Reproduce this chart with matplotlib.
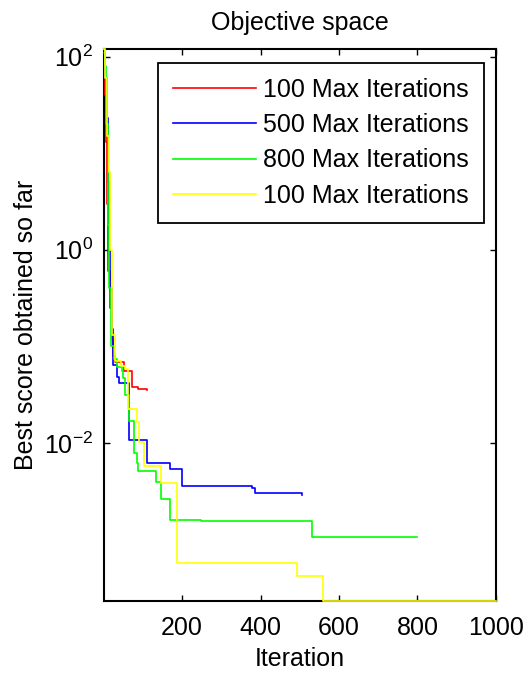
import matplotlib
matplotlib.use('Agg')
import matplotlib.pyplot as plt

plt.rcParams['font.family'] = ['Liberation Sans', 'DejaVu Sans']
plt.rcParams['mathtext.fontset'] = 'custom'
plt.rcParams['mathtext.rm'] = 'Liberation Sans'
plt.rcParams['mathtext.it'] = 'Liberation Sans'

# convergence curves: (iteration, best score) breakpoints
red_it = [1, 3, 5, 8, 12, 16, 20, 24, 28, 51, 71, 87, 110]
red_val = [110, 40, 13, 3, 0.6, 0.25, 0.12, 0.08, 0.069, 0.055, 0.038, 0.036, 0.035]

blue_it = [1, 4, 8, 11, 13, 16, 20, 23, 25, 33, 38, 64, 110, 168, 199, 377, 385, 505]
blue_val = [115, 60, 23, 5, 1, 0.4, 0.15, 0.09, 0.064, 0.048, 0.042, 0.0107,
            0.0062, 0.0054, 0.0036, 0.0034, 0.0030, 0.0029]

green_it = [1, 3, 6, 10, 14, 19, 26, 34, 46, 49, 54, 64, 77, 84, 88, 134, 145,
            170, 249, 530, 800]
green_val = [120, 80, 20, 1.8, 0.4, 0.1, 0.074, 0.061, 0.055, 0.047, 0.031,
             0.017, 0.0079, 0.0062, 0.0051, 0.0039, 0.0026, 0.0016, 0.00155,
             0.00107, 0.00105]

yellow_it = [1, 4, 8, 13, 16, 20, 22, 28, 44, 54, 62, 84, 90, 102, 145, 186,
             492, 558, 1000]
yellow_val = [120, 60, 15, 6.4, 1, 0.3, 0.13, 0.07, 0.063, 0.058, 0.0225,
              0.0165, 0.0102, 0.0058, 0.0038, 5.7e-4, 4.2e-4, 2.3e-4, 2.3e-4]

labels = ['100 Max Iterations', '500 Max Iterations', '800 Max Iterations',
          '100 Max Iterations']
colors = ['#ff0000', '#0000ff', '#00ff00', '#ffff00']

fig = plt.figure(figsize=(5.31, 6.77), dpi=100)
ax = fig.add_axes([0.196, 0.1123, 0.738, 0.8153])

series = [(red_it, red_val), (blue_it, blue_val), (green_it, green_val),
          (yellow_it, yellow_val)]
for (xs, ys), c, lab in zip(series, colors, labels):
    ax.plot(xs, ys, color=c, lw=1.2, drawstyle='steps-post', label=lab,
            zorder=3, clip_on=False)

ax.set_yscale('log')
ax.set_xlim(1, 1000)
ax.set_ylim(2.3e-4, 120)
ax.set_xticks([200, 400, 600, 800, 1000])
ax.set_yticks([1e-2, 1, 1e2])
ax.minorticks_off()
ax.tick_params(direction='in', top=True, right=True, labelsize=18,
               length=4, width=1)
ax.tick_params(axis='x', pad=11)
ax.tick_params(axis='y', pad=8)
for s in ax.spines.values():
    s.set_linewidth(1.5)

ax.set_title('Objective space', fontsize=18, pad=14)
ax.set_xlabel('Iteration', fontsize=18, labelpad=5)
ax.set_ylabel('Best score obtained so far', fontsize=18, labelpad=4)

leg = ax.legend(loc='upper right', bbox_to_anchor=(0.969, 0.975),
                borderaxespad=0, fontsize=18, fancybox=False,
                edgecolor='black', framealpha=1, handlelength=3.3,
                handletextpad=0.3, labelspacing=0.45, borderpad=0.6)
leg.get_frame().set_linewidth(1.3)
leg.set_zorder(5)

fig.savefig('out.png', dpi=100)
